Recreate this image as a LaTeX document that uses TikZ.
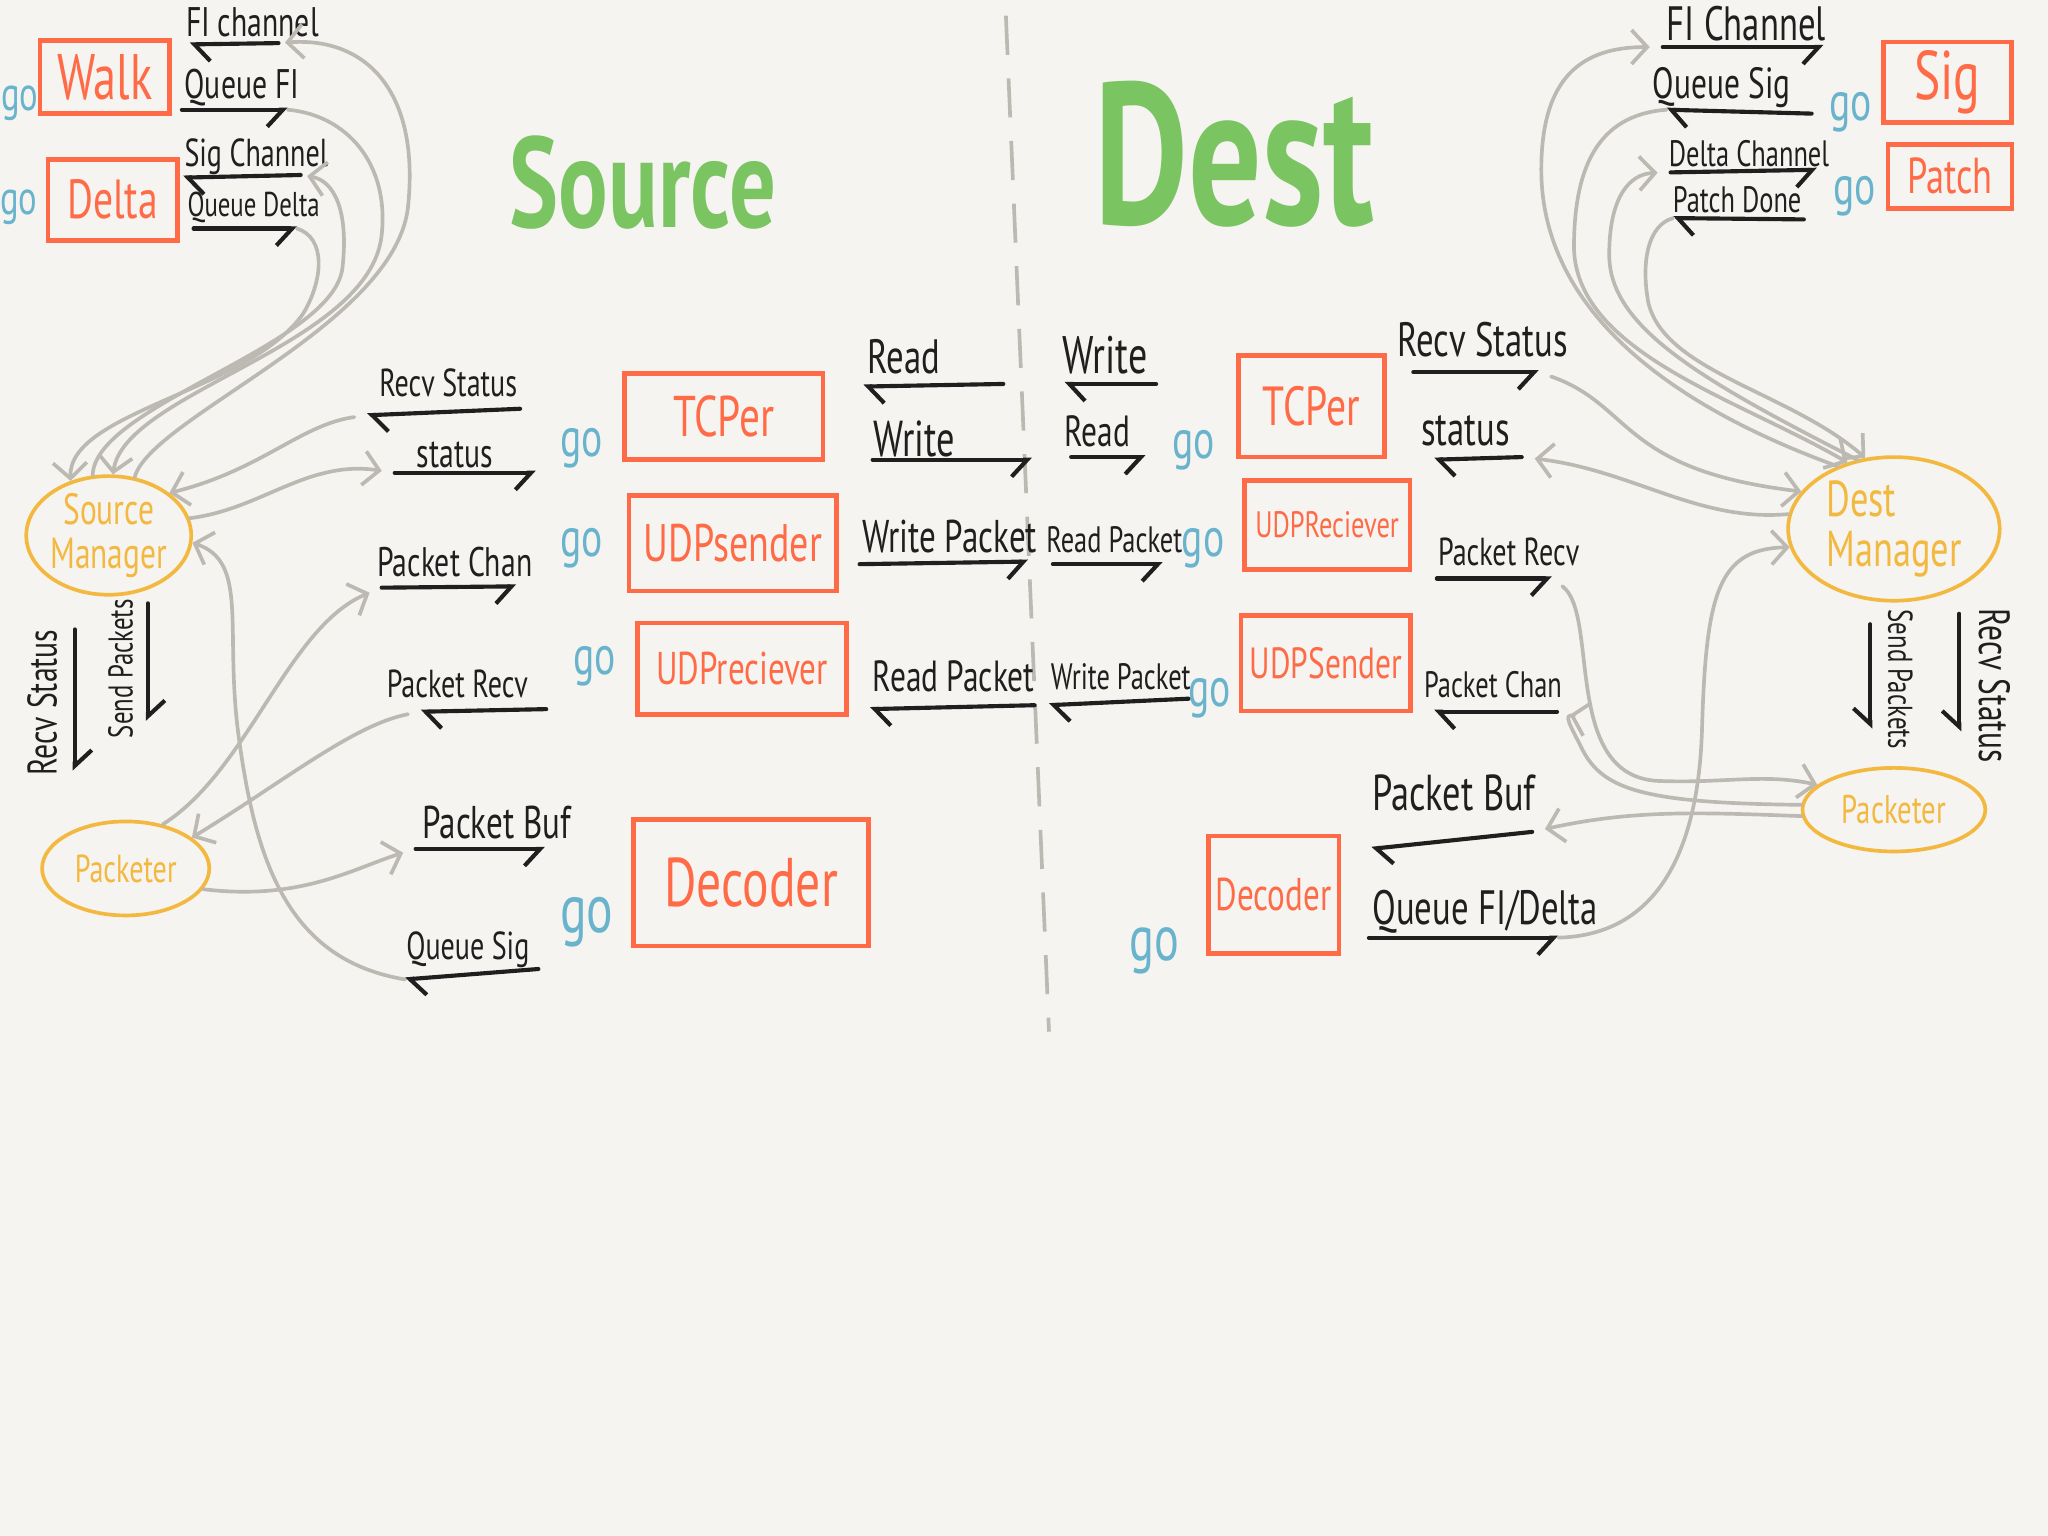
\documentclass[tikz,border=0pt]{standalone}
\usepackage{fontspec}
\setmainfont{PT Sans}[FakeStretch=0.72]
\usetikzlibrary{arrows.meta,shapes.geometric}

\definecolor{paper}{HTML}{F5F4F0}
\definecolor{ink}{HTML}{1F1F1F}
\definecolor{boxred}{HTML}{FF6B47}
\definecolor{goblue}{HTML}{6AB3CD}
\definecolor{titlegreen}{HTML}{7AC462}
\definecolor{mgryellow}{HTML}{F3B83F}
\definecolor{wiregray}{HTML}{BCB9B3}

\newcommand{\txtsz}[1]{\fontsize{#1pt}{#1pt}\selectfont}

\tikzset{
  lbl/.style={text=ink, inner sep=0pt, font=\txtsz{#1}},
  lbl/.default=7.5,
  golbl/.style={text=goblue, inner sep=0pt, font=\txtsz{12}},
  headline/.style={text=titlegreen, inner sep=0pt, font=\bfseries\txtsz{#1}},
  box/.style n args={3}{draw=boxred, text=boxred, line width=1pt,
    minimum width=#1, minimum height=#2, inner sep=0pt, font=\txtsz{#3}},
  mgr/.style n args={3}{ellipse, draw=mgryellow, text=mgryellow, line width=0.8pt,
    minimum width=#1, minimum height=#2, inner sep=0pt, align=center, font=\txtsz{#3}},
  chanR/.style={ink, line width=0.9pt, line cap=round,
    -{Straight Barb[right,length=1.2mm,width=2.6mm]}},
  chanL/.style={ink, line width=0.9pt, line cap=round,
    -{Straight Barb[left,length=1.2mm,width=2.6mm]}},
  link/.style={wiregray, line width=0.8pt, line cap=round},
  linkto/.style={link, -{Straight Barb[length=1.2mm,width=2.6mm]}},
  divider/.style={wiregray, line width=0.8pt, dash pattern=on 3mm off 1.8mm}
}

\begin{document}
\begin{tikzpicture}[x=0.1mm,y=-0.1mm]

    \fill[paper] (0,0) rectangle (1568,1176);

    % titles and the split
    \node[headline=28] (srcTitle) at (492,140) {Source};
    \node[headline=44] (dstTitle) at (945,118) {Dest};
    \draw[divider] (770,12) -- (803,790);

    % ---------- source side ----------
    \node[box={9.9mm}{5.6mm}{14}] (walk) at (80,59) {Walk};
    \node[box={9.9mm}{6.2mm}{12}] (delta) at (86,153) {Delta};
    \node[golbl, font=\txtsz{10.5}] (goWalk) at (15,79) {go};
    \node[golbl, font=\txtsz{10.5}] (goDelta) at (14,159) {go};

    \node[lbl=9] (fiS) at (193,17) {FI channel};
    \coordinate (fiSa) at (213,33); \coordinate (fiSb) at (145,34);
    \node[lbl=9] (qfiS) at (185,67) {Queue FI};
    \coordinate (qfiSa) at (139,84); \coordinate (qfiSb) at (220,84);
    \node[lbl=8.5] (sigS) at (196,120) {Sig Channel};
    \coordinate (sigSa) at (230,134); \coordinate (sigSb) at (140,136);
    \node[lbl] (qdS) at (194,159) {Queue Delta};
    \coordinate (qdSa) at (148,175); \coordinate (qdSb) at (227,175);
    \draw[chanL] (fiSa) -- (fiSb);
    \draw[chanR] (qfiSa) -- (qfiSb);
    \draw[chanL] (sigSa) -- (sigSb);
    \draw[chanR] (qdSa) -- (qdSb);

    \node[mgr={12.2mm}{7.6mm}{9.5}] (srcMgr) at (83,410) {Source\\Manager};

    \draw[linkto, shorten >=0.5mm] (srcMgr.66) .. controls (115,320) and (300,250) .. (312,160)
        .. controls (322,70) and (280,28) .. (fiSa);
    \draw[linkto] (qfiSb) .. controls (265,88) and (298,125) .. (292,180)
        .. controls (283,265) and (95,300) .. (srcMgr.86);
    \draw[linkto, shorten >=0.5mm] (srcMgr.105) .. controls (72,310) and (255,265) .. (262,205)
        .. controls (267,160) and (255,138) .. (sigSa);
    \draw[linkto] (qdSb) .. controls (250,182) and (247,215) .. (232,240)
        .. controls (190,300) and (52,315) .. (srcMgr.125);

    \node[lbl=8.5] (rsS) at (343,293) {Recv Status};
    \coordinate (rsSa) at (398,313); \coordinate (rsSb) at (281,318);
    \node[lbl=9] (stS) at (348,348) {status};
    \coordinate (stSa) at (302,362); \coordinate (stSb) at (410,362);
    \node[lbl=9] (pcS) at (348,430) {Packet Chan};
    \coordinate (pcSa) at (292,450); \coordinate (pcSb) at (395,449);
    \node[lbl=8.5] (prS) at (350,524) {Packet Recv};
    \coordinate (prSa) at (418,543); \coordinate (prSb) at (322,545);
    \node[lbl=10] (pbS) at (380,630) {Packet Buf};
    \coordinate (pbSa) at (318,650); \coordinate (pbSb) at (417,650);
    \node[lbl=8.5] (qsS) at (358,727) {Queue Sig};
    \coordinate (qsSa) at (412,742); \coordinate (qsSb) at (310,750);
    \draw[chanL] (rsSa) -- (rsSb);
    \draw[chanR] (stSa) -- (stSb);
    \draw[chanR] (pcSa) -- (pcSb);
    \draw[chanL] (prSa) -- (prSb);
    \draw[chanR] (pbSa) -- (pbSb);
    \draw[chanL] (qsSa) -- (qsSb);

    \node[golbl] (goTcpS) at (445,343) {go};
    \node[box={15.2mm}{6.6mm}{12.5}] (tcpS) at (554,319) {TCPer};
    \node[golbl] (goUsS) at (445,420) {go};
    \node[box={15.9mm}{7.3mm}{11.5}] (udpsS) at (561,416) {UDPsender};
    \node[golbl] (goUrS) at (455,510) {go};
    \node[box={16mm}{7mm}{10}] (udprS) at (568,512) {UDPreciever};
    \node[golbl, font=\txtsz{15}] (goDecS) at (449,706) {go};
    \node[box={18mm}{9.7mm}{15}] (decS) at (575,676) {Decoder};

    \node[mgr={12.8mm}{7.2mm}{8.5}] (pktS) at (96,665) {Packeter};

    \draw[linkto, shorten <=1mm] (rsSb) .. controls (230,325) and (200,360) .. (srcMgr.35);
    \draw[linkto, shorten >=1mm] (srcMgr.12) .. controls (200,390) and (235,352) .. (stSa);
    \draw[linkto, shorten >=1mm] (pktS.50) .. controls (190,590) and (220,480) .. (pcSa);
    \draw[linkto, shorten <=1mm] (prSb) .. controls (270,555) and (215,600) .. (pktS.25);
    \draw[linkto, shorten >=1mm] (pktS.-15) .. controls (230,690) and (270,665) .. (pbSa);
    \draw[linkto] (qsSb) .. controls (220,735) and (195,660) .. (182,560)
        .. controls (172,480) and (190,430) .. (srcMgr.-5);

    % vertical channels between manager and packeter
    \node[lbl=9, rotate=90] (rsV) at (32,538) {Recv Status};
    \coordinate (rsVa) at (57,482); \coordinate (rsVb) at (57,590);
    \node[lbl, rotate=90] (spV) at (92,512) {Send Packets};
    \coordinate (spVa) at (113,462); \coordinate (spVb) at (113,552);
    \draw[chanL] (rsVa) -- (rsVb);
    \draw[chanL] (spVa) -- (spVb);

    % ---------- across the split ----------
    \node[lbl=10.5] (rdM) at (692,273) {Read};
    \coordinate (rdMa) at (768,294); \coordinate (rdMb) at (661,296);
    \node[lbl=11] (wrM) at (700,336) {Write};
    \coordinate (wrMa) at (668,352); \coordinate (wrMb) at (790,352);
    \node[lbl=10] (wpM) at (727,411) {Write Packet};
    \coordinate (wpMa) at (658,432); \coordinate (wpMb) at (787,430);
    \node[lbl=9.5] (rpM) at (730,518) {Read Packet};
    \coordinate (rpMa) at (792,540); \coordinate (rpMb) at (666,543);
    \draw[chanL] (rdMa) -- (rdMb);
    \draw[chanR] (wrMa) -- (wrMb);
    \draw[chanR] (wpMa) -- (wpMb);
    \draw[chanL] (rpMa) -- (rpMb);

    \node[lbl=11.5] (wrD) at (846,272) {Write};
    \coordinate (wrDa) at (885,294); \coordinate (wrDb) at (815,294);
    \node[lbl=9.5] (rdD) at (840,330) {Read};
    \coordinate (rdDa) at (820,350); \coordinate (rdDb) at (877,350);
    \node[lbl=8] (rpD) at (853,413) {Read Packet};
    \coordinate (rpDa) at (806,432); \coordinate (rpDb) at (890,432);
    \node[lbl=8] (wpD) at (858,518) {Write Packet};
    \coordinate (wpDa) at (910,535); \coordinate (wpDb) at (803,540);
    \draw[chanL] (wrDa) -- (wrDb);
    \draw[chanR] (rdDa) -- (rdDb);
    \draw[chanR] (rpDa) -- (rpDb);
    \draw[chanL] (wpDa) -- (wpDb);

    % ---------- dest side ----------
    \node[golbl] (goTcpD) at (914,345) {go};
    \node[box={11.2mm}{7.8mm}{12}] (tcpD) at (1004,311) {TCPer};
    \node[golbl] (goUrD) at (921,420) {go};
    \node[box={12.7mm}{6.8mm}{8}] (udprD) at (1016,402) {UDPReciever};
    \node[golbl] (goUsD) at (926,535) {go};
    \node[box={13mm}{7.3mm}{9.5}] (udpsD) at (1015,508) {UDPSender};
    \node[golbl, font=\txtsz{14}] (goDecD) at (884,728) {go};
    \node[box={10mm}{9mm}{10}] (decD) at (975,685) {Decoder};

    \node[lbl=10.5] (rsD) at (1135,260) {Recv Status};
    \coordinate (rsDa) at (1082,285); \coordinate (rsDb) at (1178,285);
    \node[lbl=10.5] (stD) at (1122,330) {status};
    \coordinate (stDa) at (1165,350); \coordinate (stDb) at (1098,352);
    \node[lbl=8.5] (prD) at (1155,423) {Packet Recv};
    \coordinate (prDa) at (1100,443); \coordinate (prDb) at (1188,443);
    \node[lbl=8] (pcD) at (1143,524) {Packet Chan};
    \coordinate (pcDa) at (1192,545); \coordinate (pcDb) at (1098,545);
    \node[lbl=11] (pbD) at (1113,607) {Packet Buf};
    \coordinate (pbDa) at (1173,637); \coordinate (pbDb) at (1050,650);
    \node[lbl=10.5] (qfdD) at (1137,698) {Queue FI/Delta};
    \coordinate (qfdDa) at (1048,718); \coordinate (qfdDb) at (1193,718);
    \draw[chanR] (rsDa) -- (rsDb);
    \draw[chanL] (stDa) -- (stDb);
    \draw[chanR] (prDa) -- (prDb);
    \draw[chanL] (pcDa) -- (pcDb);
    \draw[chanL] (pbDa) -- (pbDb);
    \draw[chanR] (qfdDa) -- (qfdDb);

    \node[lbl=10.5] (fiD) at (1337,18) {FI Channel};
    \coordinate (fiDa) at (1273,36); \coordinate (fiDb) at (1396,36);
    \node[lbl=9.5] (qsD) at (1318,67) {Queue Sig};
    \coordinate (qsDa) at (1387,87); \coordinate (qsDb) at (1276,84);
    \node[lbl=8] (dcD) at (1339,118) {Delta Channel};
    \coordinate (dcDa) at (1279,132); \coordinate (dcDb) at (1391,130);
    \node[lbl=8] (pdD) at (1330,153) {Patch Done};
    \coordinate (pdDa) at (1381,168); \coordinate (pdDb) at (1281,167);
    \draw[chanR] (fiDa) -- (fiDb);
    \draw[chanL] (qsDa) -- (qsDb);
    \draw[chanR] (dcDa) -- (dcDb);
    \draw[chanL] (pdDa) -- (pdDb);

    \node[golbl] (goSig) at (1417,86) {go};
    \node[box={9.8mm}{6.2mm}{15}] (sig) at (1491,63) {Sig};
    \node[golbl] (goPatch) at (1420,150) {go};
    \node[box={9.5mm}{4.9mm}{11}] (patch) at (1493,135) {Patch};

    \node[mgr={16.2mm}{11mm}{11}, align=left] (dstMgr) at (1450,405) {Dest\\Manager};
    \node[mgr={14mm}{6.4mm}{8.7}] (pktD) at (1450,620) {Packeter};

    \node[lbl, rotate=-90] (spVD) at (1455,520) {Send Packets};
    \coordinate (spVDa) at (1432,478); \coordinate (spVDb) at (1432,558);
    \node[lbl=9.5, rotate=-90] (rsVD) at (1527,525) {Recv Status};
    \coordinate (rsVDa) at (1500,470); \coordinate (rsVDb) at (1500,560);
    \draw[chanR] (spVDa) -- (spVDb);
    \draw[chanR] (rsVDa) -- (rsVDb);

    \draw[linkto, shorten >=1mm] (dstMgr.132) .. controls (1250,300) and (1180,220) .. (1180,130)
        .. controls (1180,60) and (1210,36) .. (fiDa);
    \draw[linkto] (qsDb) .. controls (1222,88) and (1205,130) .. (1205,190)
        .. controls (1207,270) and (1330,305) .. (dstMgr.125);
    \draw[linkto, shorten >=1mm] (dstMgr.118) .. controls (1300,290) and (1232,250) .. (1232,195)
        .. controls (1232,150) and (1248,133) .. (dcDa);
    \draw[linkto] (pdDb) .. controls (1262,172) and (1256,200) .. (1262,232)
        .. controls (1275,285) and (1370,300) .. (dstMgr.112);

    \draw[linkto, shorten <=1mm] (rsDb) .. controls (1250,310) and (1240,360) .. (dstMgr.158);
    \draw[linkto, shorten >=1mm] (dstMgr.172) .. controls (1300,400) and (1250,360) .. (stDa);
    \draw[linkto, shorten <=1mm] (prDb) .. controls (1225,470) and (1195,595) .. (1270,598)
        .. controls (1320,600) and (1350,592) .. (pktD.162);
    \draw[linkto, shorten >=1mm] (pktD.177) .. controls (1260,615) and (1228,605) .. (1212,575)
        .. controls (1202,555) and (1196,546) .. (pcDa);
    \draw[linkto, shorten >=1mm] (pktD.184) .. controls (1300,622) and (1250,620) .. (pbDa);
    \draw[linkto] (qfdDb) .. controls (1270,716) and (1300,650) .. (1303,560)
        .. controls (1306,455) and (1315,420) .. (dstMgr.190);

\end{tikzpicture}
\end{document}
